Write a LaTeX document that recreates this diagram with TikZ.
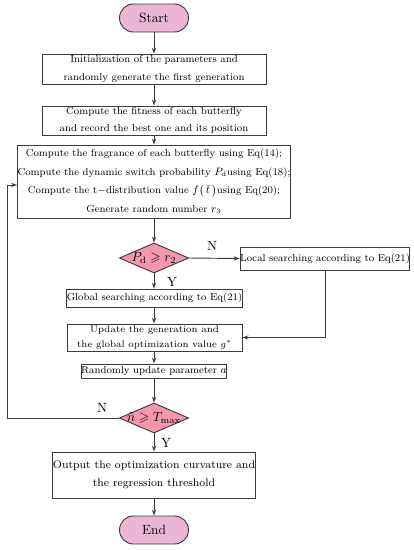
\documentclass[tikz,border=0pt]{standalone}
\usepackage{amsmath,amssymb}
\usepackage{xcolor}
\usetikzlibrary{shapes.geometric, arrows.meta, positioning, calc}

\definecolor{termpink}{HTML}{EBB5D4}
\definecolor{decpink}{HTML}{F497AE}
\definecolor{linegray}{HTML}{3C3C3C}

\tikzset{
  flowline/.style={draw=linegray, line width=0.7pt},
  terminal/.style={flowline, fill=termpink, rounded corners=10.5pt, minimum width=51.75pt, minimum height=21pt, inner sep=0pt, font=\normalsize},
  procbox/.style={flowline, fill=white, inner sep=0pt, align=center, font=\fontsize{7.6}{12.8}\selectfont},
  decision/.style={flowline, fill=decpink, diamond, inner sep=0pt, minimum width=52pt, minimum height=22.5pt},
  yn/.style={font=\normalsize, inner sep=1pt}
}

\begin{document}
\begin{tikzpicture}[x=0.75pt, y=-0.75pt, >={Stealth[length=4.5pt, width=3.2pt]}]
			\useasboundingbox (0,0) rectangle (414,550);
			% terminals, boxes and decisions
			\node[terminal] (start) at (154,18) {Start};
			\node[procbox, minimum width=168pt, minimum height=22.5pt] (init) at (154,69)
				{Initialization of the parameters and\\randomly generate the first generation};
			\node[procbox, minimum width=168pt, minimum height=21.75pt] (fit) at (154,120.5)
				{Compute the fitness of each butterfly\\and record the best one and its position};
			\node[procbox, minimum width=193.5pt, minimum height=54.75pt, font=\fontsize{7.6}{14}\selectfont] (frag) at (154,181.5)
				{Compute the fragrance of each butterfly using Eq(14);\\
				 Compute the dynamic switch probability $P_{\mathrm{d}}$using Eq(18);\\
				 Compute the t$-$distribution value $f\big(\,\bar{t}\,\big)$using Eq(20);\\
				 Generate random number $r_3$};
			\node[decision] (dec1) at (154,258) {\makebox[0pt]{$P_{\mathrm{d}}\geqslant r_2$}};
			\node[procbox, minimum width=126pt, minimum height=17.25pt] (local) at (325,258.5)
				{Local searching according to Eq(21)};
			\node[procbox, minimum width=131.25pt, minimum height=13.5pt] (global) at (154.5,298)
				{Global searching according to Eq(21)};
			\node[procbox, minimum width=131.25pt, minimum height=20.25pt, font=\fontsize{7.2}{11.2}\selectfont] (update) at (154.5,337.5)
				{Update the generation and\\the global optimization value $g^{*}$};
			\node[procbox, minimum width=97.5pt, minimum height=10.5pt] (rand) at (154,371)
				{Randomly update parameter $a$};
			\node[decision] (dec2) at (154,418) {\makebox[0pt]{$\hat{n}\geqslant T_{\max}$}};
			\node[procbox, minimum width=147pt, minimum height=34.5pt, font=\fontsize{8.3}{13.5}\selectfont] (out) at (154,475)
				{Output the optimization curvature and\\the regression threshold};
			\node[terminal] (stop) at (154,530) {End};
			\coordinate (loopturn) at (7,185);
			% connectors
			\draw[flowline, ->] (start) -- (init);
			\draw[flowline, ->] (init) -- (fit);
			\draw[flowline, ->] (fit) -- (frag);
			\draw[flowline, ->] (frag) -- (dec1);
			\draw[flowline, ->] (dec1.east) -- (local.west);
			\draw[flowline, ->] (dec1.south) -- (global.north -| dec1.south);
			\draw[flowline, ->] (global.south -| dec1.south) -- (update.north -| dec1.south);
			\draw[flowline, ->] (local.south) |- (update.east);
			\draw[flowline, ->] (update.south -| dec1.south) -- (rand.north -| dec1.south);
			\draw[flowline, ->] (rand) -- (dec2);
			\draw[flowline, ->] (dec2.west) -| (loopturn) -- (frag.west |- loopturn);
			\draw[flowline, ->] (dec2) -- (out);
			\draw[flowline, ->] (out) -- (stop);
			% branch labels
			\node[yn] (n1) at (212,246) {N};
			\node[yn] (y1) at (172,282) {Y};
			\node[yn] (n2) at (102,408) {N};
			\node[yn] (y2) at (166,443) {Y};
		\end{tikzpicture}
\end{document}
